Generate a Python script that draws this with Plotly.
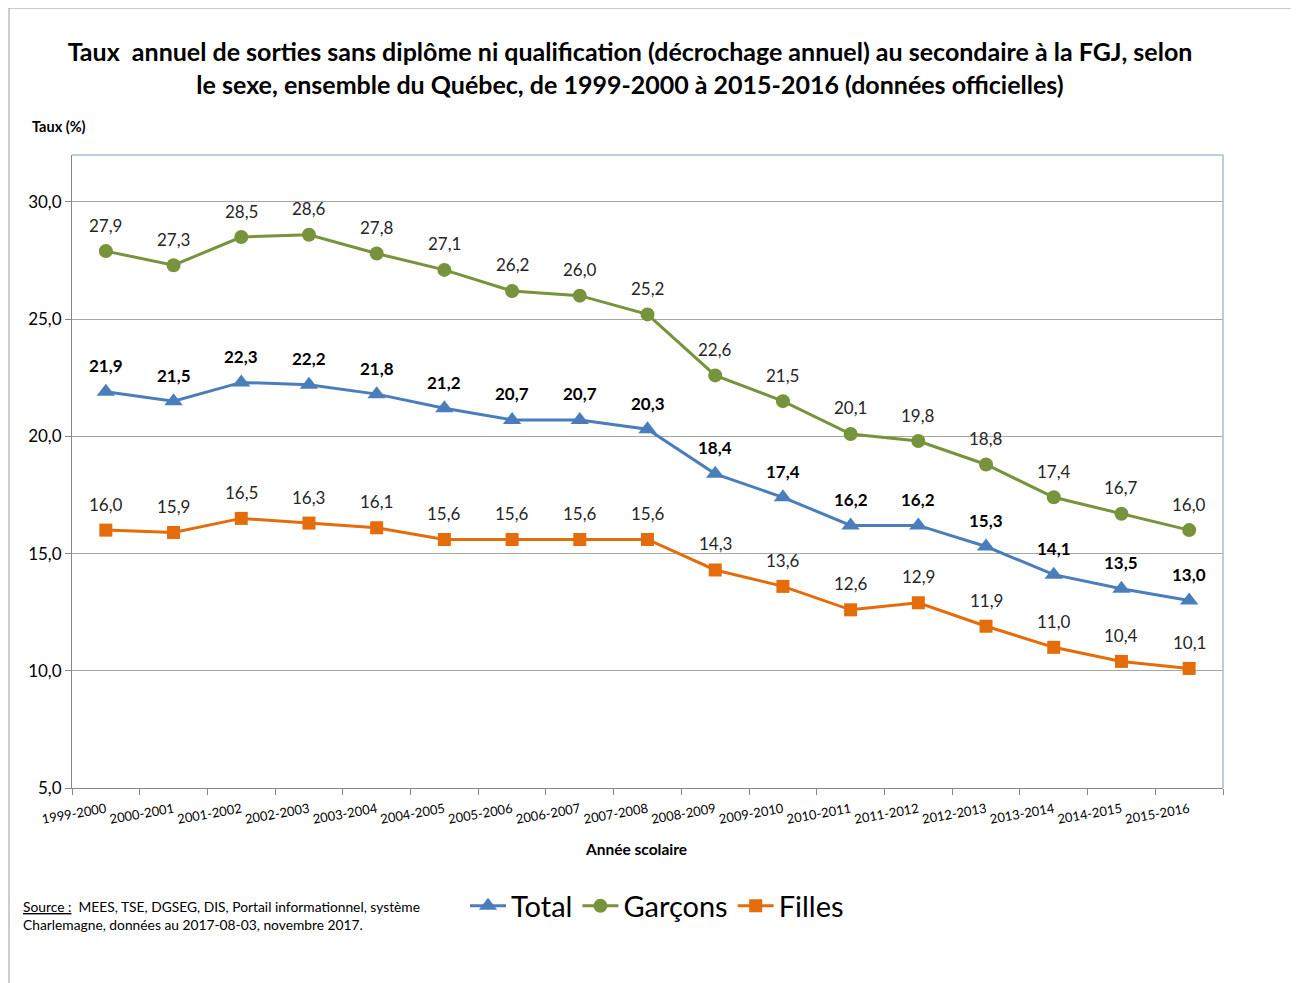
import plotly.graph_objects as go

annees = ["1999-2000", "2000-2001", "2001-2002", "2002-2003", "2003-2004", "2004-2005",
          "2005-2006", "2006-2007", "2007-2008", "2008-2009", "2009-2010", "2010-2011",
          "2011-2012", "2012-2013", "2013-2014", "2014-2015", "2015-2016"]
total = [21.9, 21.5, 22.3, 22.2, 21.8, 21.2, 20.7, 20.7, 20.3, 18.4, 17.4, 16.2, 16.2, 15.3, 14.1, 13.5, 13.0]
garcons = [27.9, 27.3, 28.5, 28.6, 27.8, 27.1, 26.2, 26.0, 25.2, 22.6, 21.5, 20.1, 19.8, 18.8, 17.4, 16.7, 16.0]
filles = [16.0, 15.9, 16.5, 16.3, 16.1, 15.6, 15.6, 15.6, 15.6, 14.3, 13.6, 12.6, 12.9, 11.9, 11.0, 10.4, 10.1]

BLEU = "#4A7EBB"
VERT = "#77933C"
ORANGE = "#E46C0A"
FONT = "Lato"

# la page décale le graphique de 8 px (marge du body) : on compense
OFF = 8
W, H = 1299 - OFF, 983 - OFF
L, R, T, B = 72 - OFF, 1299 - 1223, 155 - OFF, 983 - 788


def px_x(p):
    return (p - OFF - L) / (W - L - R)


def px_y(p):
    return (H - B - (p - OFF)) / (H - T - B)


series = [
    ("Total", total, BLEU, "triangle-up", 16, True),
    ("Garçons", garcons, VERT, "circle", 14, False),
    ("Filles", filles, ORANGE, "square", 13, False),
]

fig = go.Figure()
annotations = []
for nom, vals, coul, sym, taille, gras in series:
    fig.add_trace(go.Scatter(
        x=annees, y=vals, name=nom, mode="lines+markers",
        line=dict(color=coul, width=3), marker=dict(symbol=sym, size=taille, color=coul)))
    for a, v in zip(annees, vals):
        txt = f"{v:.1f}".replace(".", ",")
        annotations.append(dict(
            x=a, y=v, xref="x", yref="y", text=f"<b>{txt}</b>" if gras else txt,
            showarrow=False, yshift=26, yanchor="middle",
            font=dict(size=17, family=FONT, color="#000" if gras else "#262626")))

fig.update_layout(
    width=W, height=H,
    margin=dict(l=L, r=R, t=T, b=B, autoexpand=False),
    paper_bgcolor="white", plot_bgcolor="white",
    separators=", ",
    font=dict(family=FONT, color="#000"),
    title=dict(
        text="<b>Taux  annuel de sorties sans diplôme ni qualification (décrochage annuel) au secondaire à la FGJ, selon<br>le sexe, ensemble du Québec, de 1999-2000 à 2015-2016 (données officielles)</b>",
        x=px_x(630), xref="paper", xanchor="center", y=1 - (61 - OFF) / H, yanchor="middle",
        font=dict(size=25, family=FONT, color="#000")),
    showlegend=True,
    legend=dict(orientation="h", x=px_x(657), xanchor="center", y=px_y(906), yanchor="middle",
                font=dict(size=29, family=FONT, color="#000"), bgcolor="rgba(0,0,0,0)",
                itemwidth=36, tracegroupgap=0),
    xaxis=dict(
        type="category", range=[-0.5, 16.5], tickangle=-10, tickson="boundaries",
        ticks="outside", ticklen=6, tickcolor="#888", showline=True, linecolor="#888",
        ticklabelstandoff=8,
        showgrid=False, tickfont=dict(size=13, family=FONT, color="#000")),
    yaxis=dict(
        range=[5, 32], tickvals=[5, 10, 15, 20, 25, 30], tickformat=".1f",
        ticks="outside", ticklen=6, tickcolor="#888", showline=True, linecolor="#888",
        showgrid=True, gridcolor="#A6A6A6", gridwidth=1, zeroline=False,
        tickfont=dict(size=17, family=FONT, color="#000")),
    shapes=[
        # bordure de la zone de tracé (haut et droite)
        dict(type="line", xref="paper", yref="paper", x0=0, x1=1, y0=1, y1=1,
             line=dict(color="#A9BCD0", width=1.5)),
        dict(type="line", xref="paper", yref="paper", x0=1, x1=1, y0=0, y1=1,
             line=dict(color="#A9BCD0", width=1.5)),
        # bordure du graphique
        dict(type="rect", xref="paper", yref="paper", x0=px_x(9), x1=px_x(1305),
             y0=px_y(990), y1=px_y(8), line=dict(color="#9A9A9A", width=1)),
    ],
    annotations=annotations + [
        dict(text="<b>Taux (%)</b>", xref="paper", yref="paper", x=px_x(30), y=px_y(126),
             xanchor="left", yanchor="middle", showarrow=False,
             font=dict(size=14.5, family=FONT, color="#000")),
        dict(text="<b>Année scolaire</b>", xref="paper", yref="paper", x=px_x(636), y=px_y(849),
             xanchor="center", yanchor="middle", showarrow=False,
             font=dict(size=15.5, family=FONT, color="#000")),
        dict(text="<u>Source :</u>  MEES, TSE, DGSEG, DIS, Portail informationnel, système<br>Charlemagne, données au 2017-08-03, novembre 2017.",
             xref="paper", yref="paper", x=px_x(21), y=px_y(915), xanchor="left", yanchor="middle",
             align="left", showarrow=False, font=dict(size=13.8, family=FONT, color="#000")),
    ],
)

fig.write_html("out.html")
